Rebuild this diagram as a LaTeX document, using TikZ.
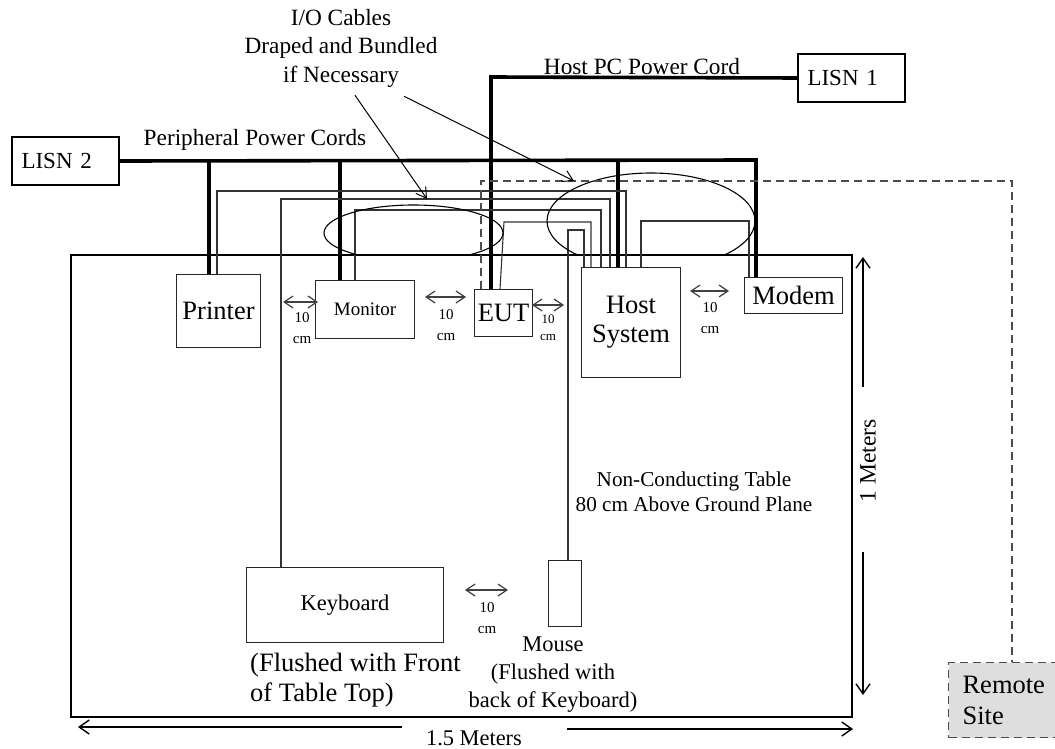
\documentclass[tikz,border=0pt]{standalone}
\usepackage{fontspec}
\setmainfont{Liberation Serif}
\usetikzlibrary{arrows.meta}

\begin{document}
\begin{tikzpicture}[
    x=1pt, y=-1pt,
    unit/.style={draw=black!85, line width=1.1pt, anchor=north west, inner sep=0pt, align=center, font=\fontsize{26.5}{29}\selectfont},
    lisnbox/.style={draw, line width=2pt, anchor=north west, minimum height=48pt, inner xsep=9.5pt, text width=88pt, align=left, font=\fontsize{23}{27}\selectfont},
    power/.style={line width=3.6pt},
    cable/.style={line width=1.1pt, black!80},
    bundle/.style={line width=1.1pt},
    remotelink/.style={line width=1.1pt, black!70, dash pattern=on 8pt off 5pt},
    gap/.style={line width=1.2pt, black!75, {Straight Barb[length=9pt,width=12pt]}-{Straight Barb[length=9pt,width=12pt]}},
    gaplabel/.style={inner sep=0pt, align=center, font=\fontsize{15}{21}\selectfont},
    note/.style={line width=1pt, -{Straight Barb[length=10pt,width=12pt]}},
    notetext/.style={inner sep=0pt, align=center, font=\fontsize{23.3}{28.5}\selectfont},
    dim/.style={line width=1.4pt, -{Straight Barb[length=10pt,width=14pt]}}
]
  \useasboundingbox (0,0) rectangle (1055,749);

  % table top
  \node[draw, line width=2.4pt, anchor=north west, minimum width=781pt, minimum height=462pt, inner sep=0pt] (table) at (70,254) {};

  % equipment
  \node[unit, minimum width=84pt, minimum height=73pt] (printer) at (176,274) {Printer};
  \node[unit, minimum width=99pt, minimum height=58pt, font=\fontsize{19}{22}\selectfont] (monitor) at (315,280) {Monitor};
  \node[unit, minimum width=58pt, minimum height=47pt] (eut) at (474,289) {EUT};
  \node[unit, minimum width=99pt, minimum height=110pt] (host) at (581,267) {Host\\System};
  \node[unit, minimum width=98pt, minimum height=36pt] (modem) at (744,277) {Modem};
  \node[unit, minimum width=197pt, minimum height=75pt, font=\fontsize{22.5}{26}\selectfont] (keyboard) at (246,567) {Keyboard};
  \node[unit, minimum width=33pt, minimum height=66pt] (mouse) at (548,560) {};

  \node[lisnbox] (lisn2) at (11,136) {LISN 2};
  \node[lisnbox] (lisn1) at (797,53) {LISN 1};

  % power cords
  \coordinate (pdrop) at (209,160);
  \coordinate (mdrop) at (340,160);
  \coordinate (hdrop) at (618,160);
  \coordinate (modrop) at (756,160);
  \coordinate (hostcord) at (491,77);
  \draw[power] (lisn2.east) -- (modrop) -- (modrop |- modem.north);
  \draw[power] (pdrop) -- (pdrop |- printer.north);
  \draw[power] (mdrop) -- (mdrop |- monitor.north);
  \draw[power] (hdrop) -- (hdrop |- host.north);
  \draw[power] (lisn1.west) -- (hostcord) -- (hostcord |- eut.north);

  % i/o cables
  \coordinate (ca) at (217,191);  \coordinate (ca2) at (626,191);
  \coordinate (cb) at (281,199);  \coordinate (cb2) at (610,199);
  \coordinate (cc) at (355,210);  \coordinate (cc2) at (601,210);
  \coordinate (cd) at (504,222);  \coordinate (cd2) at (591,222);
  \coordinate (ce) at (568,230);  \coordinate (ce2) at (584,230);
  \coordinate (cf) at (641,221);  \coordinate (cf2) at (749,221);
  \draw[cable] (ca |- printer.north) -- (ca) -- (ca2) -- (ca2 |- host.north);
  \draw[cable] (cb |- keyboard.north) -- (cb) -- (cb2) -- (cb2 |- host.north);
  \draw[cable] (cc |- monitor.north) -- (cc) -- (cc2) -- (cc2 |- host.north);
  \draw[cable] ([xshift=-4pt]eut.north east -| cd) -- (cd) -- (cd2) -- (cd2 |- host.north);
  \draw[cable] (ce |- mouse.north) -- (ce) -- (ce2) -- (ce2 |- host.north);
  \draw[cable] (cf |- host.north) -- (cf) -- (cf2) -- (cf2 |- modem.north);

  % bundles
  \begin{scope}
    \clip (0,0) rectangle (1055,254);
    \draw[bundle] (413.5,233) ellipse [x radius=89.5, y radius=28];
    \draw[bundle] (651,221) ellipse [x radius=104, y radius=48];
  \end{scope}

  % remote site
  \node[draw=black!70, dash pattern=on 8pt off 5pt, fill=black!13, line width=1.1pt, anchor=north west, minimum height=75pt, inner xsep=14pt, text width=87pt, align=left, font=\fontsize{26.5}{31}\selectfont] (remote) at (948,662) {Remote\\Site};
  \coordinate (dsh) at (481,181);
  \coordinate (dsh2) at (1012,181);
  \draw[remotelink] (dsh |- eut.north) -- (dsh) -- (dsh2) -- (dsh2 |- remote.north);

  % labels
  \node[notetext] (io) at (341,48) {I/O Cables\\Draped and Bundled\\if Necessary};
  \node[notetext] (periph) at (255,140) {Peripheral Power Cords};
  \node[notetext] (hostpc) at (642,67) {Host PC Power Cord};
  \coordinate (tipb) at (427,199);
  \coordinate (tipd) at (574,181);
  \draw[note] ([xshift=14pt,yshift=-8pt]io.south) -- (tipb);
  \draw[note] ([xshift=63pt,yshift=-9pt]io.south) -- (tipd);

  \node[inner sep=0pt, align=center, font=\fontsize{21.2}{25}\selectfont] (tabletext) at (694,492) {Non-Conducting Table\\80 cm Above Ground Plane};
  \node[inner sep=0pt, anchor=west, align=left, font=\fontsize{26.5}{30}\selectfont] (kbnote) at (250,680) {(Flushed with Front\\of Table Top)};
  \node[inner sep=0pt, align=center, font=\fontsize{22.5}{28}\selectfont] (mousenote) at (553,675) {Mouse\\(Flushed with\\back of Keyboard)};

  % spacing
  \draw[gap] (283,302) -- (318,302);
  \draw[gap] (425,297) -- (466,297);
  \draw[gap] (532,305) -- (564,305);
  \draw[gap] (690,291) -- (729,291);
  \draw[gap] (465,590) -- (508,590);
  \node[gaplabel] (g1) at (302,328) {10\\cm};
  \node[gaplabel] (g2) at (446,325) {10\\cm};
  \node[gaplabel, font=\fontsize{13}{17}\selectfont] (g3) at (548,328) {10\\cm};
  \node[gaplabel] (g4) at (710,318) {10\\cm};
  \node[gaplabel] (g5) at (487,618) {10\\cm};

  % dimensions
  \node[inner sep=0pt, rotate=90, font=\fontsize{23.5}{27}\selectfont] (onem) at (868,461) {1 Meters};
  \node[inner sep=0pt, font=\fontsize{22.4}{26}\selectfont] (onefive) at (474,738) {1.5 Meters};
  \draw[dim] (863,387) -- (863,257);
  \draw[dim] (863,552) -- (863,695);
  \draw[dim] (402,727) -- (78,727);
  \draw[dim] (567,729) -- (853,729);
\end{tikzpicture}
\end{document}
